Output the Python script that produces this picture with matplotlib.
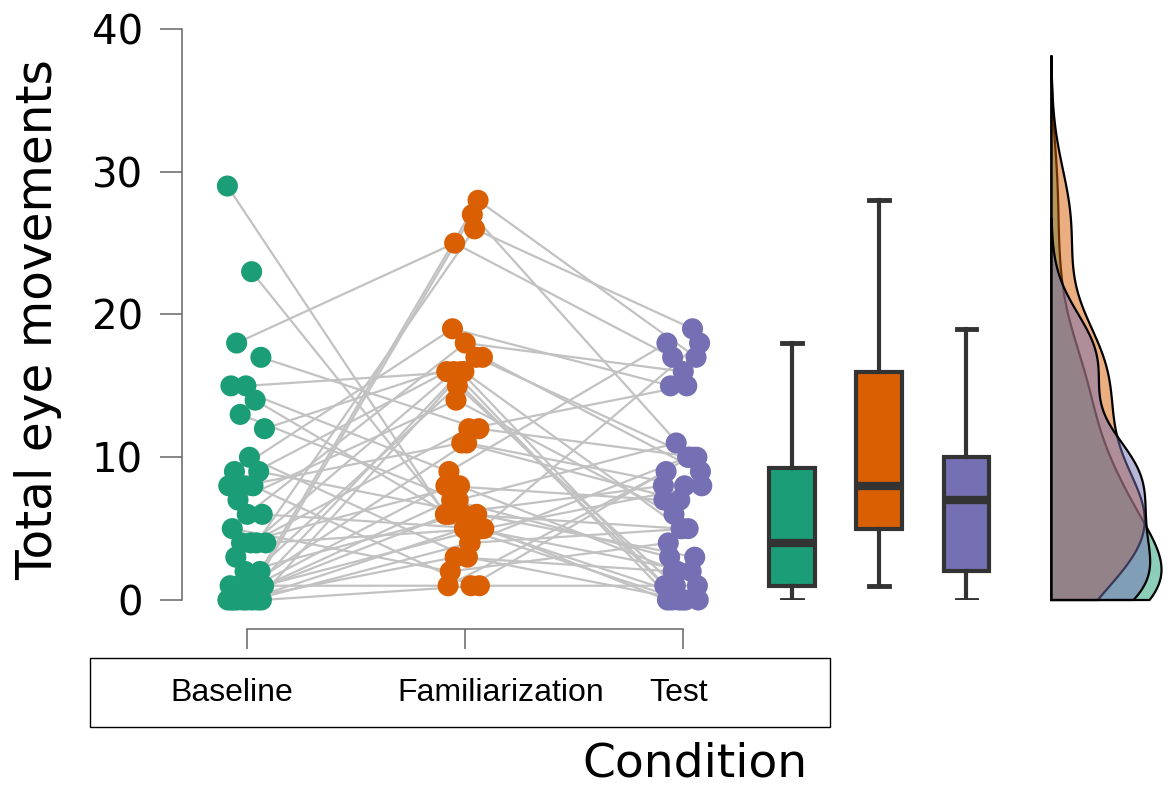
import matplotlib.pyplot as plt
import numpy as np
from matplotlib.colors import to_rgb
from matplotlib.patches import Polygon, Rectangle

# conditions and colours (Dark2)
conditions = ["Baseline", "Familiarization", "Test"]
colors = ["#1b9e77", "#d95f02", "#7570b3"]

# total eye movements per subject (same subject order in every list)
baseline = [29, 23, 18, 17, 15, 15, 14, 13, 12, 10, 9, 9, 8, 8, 8, 7, 6, 6, 5, 4,
            4, 4, 4, 3, 2, 2, 1, 1, 1, 1, 1, 0, 0, 0, 0, 0, 0, 0, 0, 0]
familiarization = [6, 4, 25, 12, 16, 9, 5, 7, 17, 3, 19, 6, 11, 16, 1, 14, 5, 18, 2, 26,
                   8, 5, 12, 16, 28, 6, 1, 27, 15, 5, 11, 7, 17, 16, 8, 4, 3, 1, 5, 6]
test = [8, 10, 17, 10, 5, 18, 2, 11, 9, 0, 15, 3, 7, 1, 10, 6, 0, 16, 4, 19,
        2, 8, 15, 0, 17, 5, 9, 10, 1, 18, 8, 3, 10, 0, 7, 5, 2, 1, 0, 0]

yticks = [0, 10, 20, 30, 40]

data = [np.array(baseline, float), np.array(familiarization, float), np.array(test, float)]
n = len(baseline)

# layout positions
box_pos = [2.5, 2.9, 3.3]
dens_base = 3.69
jit = ((np.arange(n) * 0.618034) % 1 - 0.5) * 0.18

fig = plt.figure(figsize=(11.69, 7.88), dpi=100)
ax = fig.add_axes([182 / 1169, 1 - 600 / 788, 987 / 1169, 571 / 788])
ax.set_xlim(-65 / 218, 922 / 218)
ax.set_ylim(0, 40)

# paired lines
xs = [i + jit for i in range(3)]
for s in range(n):
    ax.plot([xs[0][s], xs[1][s], xs[2][s]], [data[0][s], data[1][s], data[2][s]],
            color="#c2c2c2", lw=1.6, zorder=1, clip_on=False)

# jittered points
for i in range(3):
    ax.scatter(xs[i], data[i], s=230, color=colors[i], edgecolors="none",
               zorder=3, clip_on=False)

# boxplots
bp = ax.boxplot(data, positions=box_pos, widths=0.21, patch_artist=True,
                showfliers=False, capwidths=0.09, manage_ticks=False,
                boxprops=dict(edgecolor="#333333", linewidth=3),
                whiskerprops=dict(color="#333333", linewidth=3),
                capprops=dict(color="#333333", linewidth=3.5),
                medianprops=dict(color="#333333", linewidth=6))
for patch, c in zip(bp["boxes"], colors):
    patch.set_facecolor(c)
for art in bp["boxes"] + bp["whiskers"] + bp["caps"] + bp["medians"]:
    art.set_zorder(4)


# half densities (gaussian kde, scott bandwidth)
def kde(vals, grid):
    bw = vals.std(ddof=1) * len(vals) ** (-1 / 5)
    z = (grid[:, None] - vals[None, :]) / bw
    return np.exp(-0.5 * z ** 2).sum(1) / (len(vals) * bw * np.sqrt(2 * np.pi))


curves = []
for v in data:
    bw = v.std(ddof=1) * len(v) ** (-1 / 5)
    grid = np.linspace(0, v.max() + 2.7 * bw, 300)
    curves.append((grid, kde(v, grid)))
scale = 0.505 / curves[0][1].max()
for idx in [0, 1, 2]:
    grid, d = curves[idx]
    verts = [(dens_base, 0)] + list(zip(dens_base + d * scale, grid)) + [(dens_base, grid[-1])]
    ax.add_patch(Polygon(verts, closed=True, facecolor=(*to_rgb(colors[idx]), 0.5),
                         edgecolor="black", lw=1.6, zorder=5, clip_on=False))

# axes styling
for side in ["top", "right"]:
    ax.spines[side].set_visible(False)
ax.spines["left"].set_bounds(0, 40)
ax.spines["bottom"].set_bounds(0, 2)
ax.spines["bottom"].set_position(("outward", 21))
for side in ["left", "bottom"]:
    ax.spines[side].set_color("#666666")
    ax.spines[side].set_linewidth(1.1)
ax.set_yticks(yticks)
ax.set_xticks([0, 1, 2])
ax.set_xticklabels([])
ax.tick_params(axis="y", length=16, width=1.1, color="#666666", pad=12, labelsize=29)
ax.tick_params(axis="x", length=14.5, width=1.1, color="#666666")

# labels
fig.text(38 / 1169, 1 - 320 / 788, "Total eye movements", rotation=90,
         ha="center", va="center", fontsize=35)
fig.text(695 / 1169, 1 - 764 / 788, "Condition", ha="center", va="center", fontsize=34)

# boxed condition names
fig.add_artist(Rectangle((90 / 1169, 1 - 727 / 788), 740 / 1169, 69 / 788,
                         transform=fig.transFigure, fill=False, edgecolor="black", lw=1))
for name, px in zip(conditions, [232, 501, 679]):
    fig.text(px / 1169, 1 - 701 / 788, name, ha="center", va="baseline",
             fontsize=23, family="Liberation Sans")

fig.savefig("out.png", dpi=100)
